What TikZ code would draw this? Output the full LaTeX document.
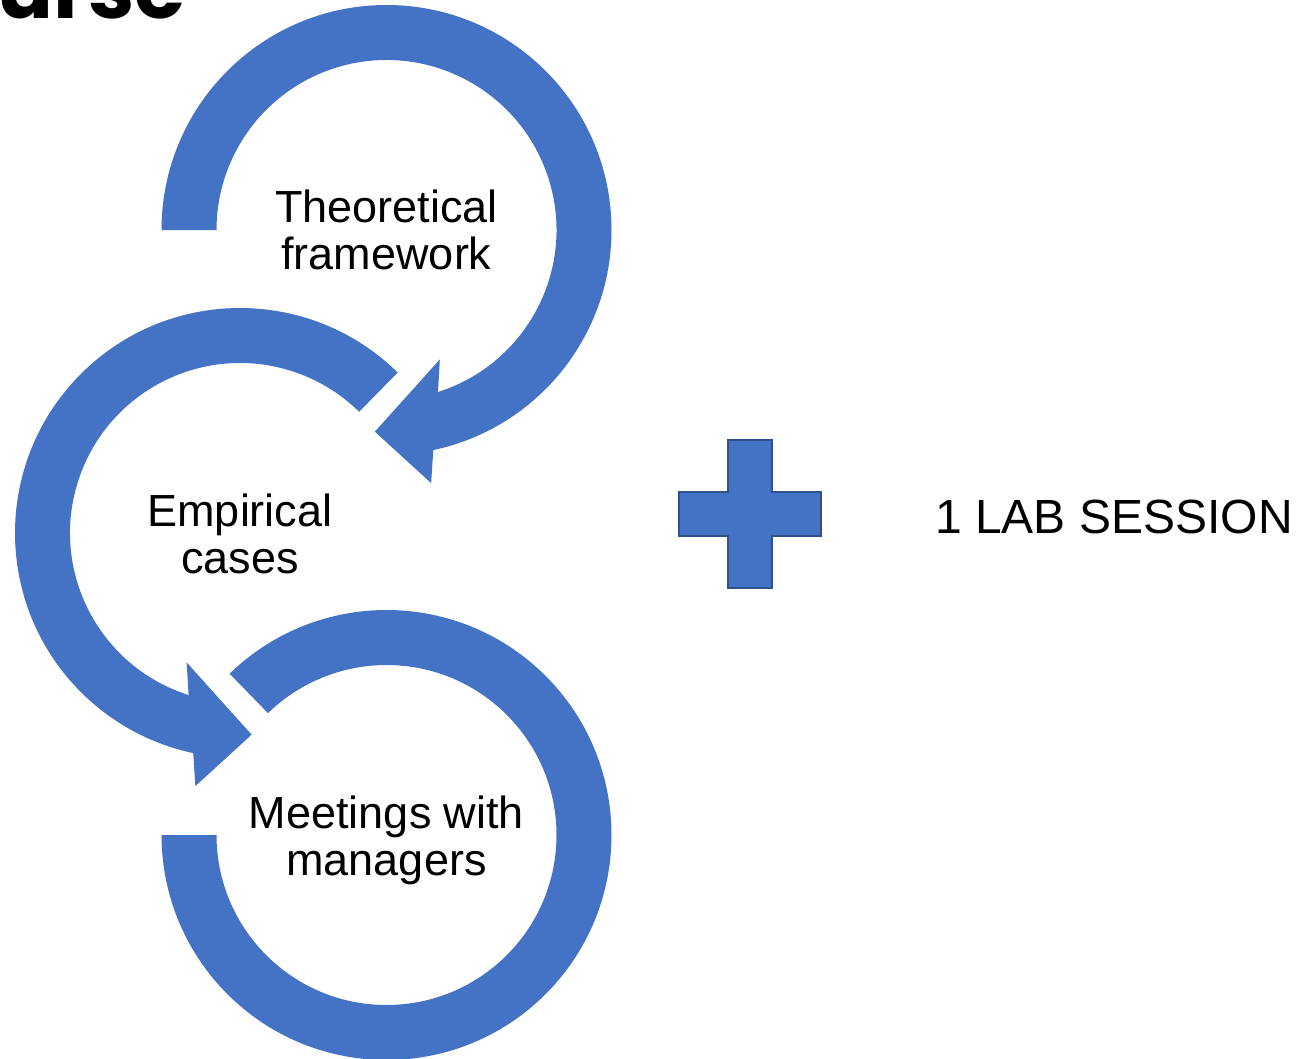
\documentclass[tikz,border=0pt]{standalone}
\usepackage{fontspec}
\setmainfont{Liberation Sans}
\newfontfamily\titlefont{Poppins}
\definecolor{accentblue}{RGB}{68,114,196}
\definecolor{accentdark}{RGB}{47,82,143}
\begin{document}
\begin{tikzpicture}[x=1pt,y=1pt,
  ring/.style={fill=accentblue, draw=none},
  lbl/.style={inner sep=0pt, align=center, font=\fontsize{45pt}{47pt}\selectfont, text=black},
  plusbox/.style={draw=accentdark, fill=accentblue, line width=2.5pt, line join=miter},
]
\useasboundingbox (0,0) rectangle (1299,-1058);
\fill[white] (0,0) rectangle (1299,-1058);
\coordinate (c1) at (386.5,-230);
\coordinate (c2) at (240,-533);
\coordinate (c3) at (386.5,-835);

% ring 1 with arrow head
\fill[ring] ([shift={(180:225)}]c1) arc[start angle=180,end angle=-78,radius=225pt]
  -- ([shift={(-80:257)}]c1) -- ([shift={(-93.3:202)}]c1) -- ([shift={(-67.6:140)}]c1)
  -- ([shift={(-72.4:170)}]c1) arc[start angle=-72.4,end angle=180,radius=170pt] -- cycle;

% ring 2 with arrow head
\fill[ring] ([shift={(45.5:225)}]c2) arc[start angle=45.5,end angle=258,radius=225pt]
  -- ([shift={(260:257)}]c2) -- ([shift={(273.3:202)}]c2) -- ([shift={(247.6:140)}]c2)
  -- ([shift={(252.4:170)}]c2) arc[start angle=252.4,end angle=45.5,radius=170pt] -- cycle;

% ring 3
\fill[ring] ([shift={(134.2:225)}]c3) arc[start angle=134.2,end angle=-180,radius=225pt]
  -- ([shift={(180:170)}]c3) arc[start angle=-180,end angle=134.2,radius=170pt] -- cycle;

\node[lbl] (t1) at (386.5,-230) {Theoretical\\framework};
\node[lbl] (t2) at (240,-534) {Empirical\\cases};
\node[lbl] (t3) at (386.5,-840) {Meetings with\\managers};

% plus sign
\draw[plusbox] (728,-440) -- (772,-440) -- (772,-492) -- (821,-492) -- (821,-536)
  -- (772,-536) -- (772,-588) -- (728,-588) -- (728,-536) -- (679,-536)
  -- (679,-492) -- (728,-492) -- cycle;

\node[inner sep=0pt, anchor=base west, font=\fontsize{48pt}{48pt}\selectfont] (lab) at (935,-533) {1 LAB SESSION};
\node[inner sep=0pt, anchor=base west, font=\titlefont\bfseries\fontsize{83pt}{83pt}\selectfont] (title) at (-3,-18) {urse};
\end{tikzpicture}
\end{document}
